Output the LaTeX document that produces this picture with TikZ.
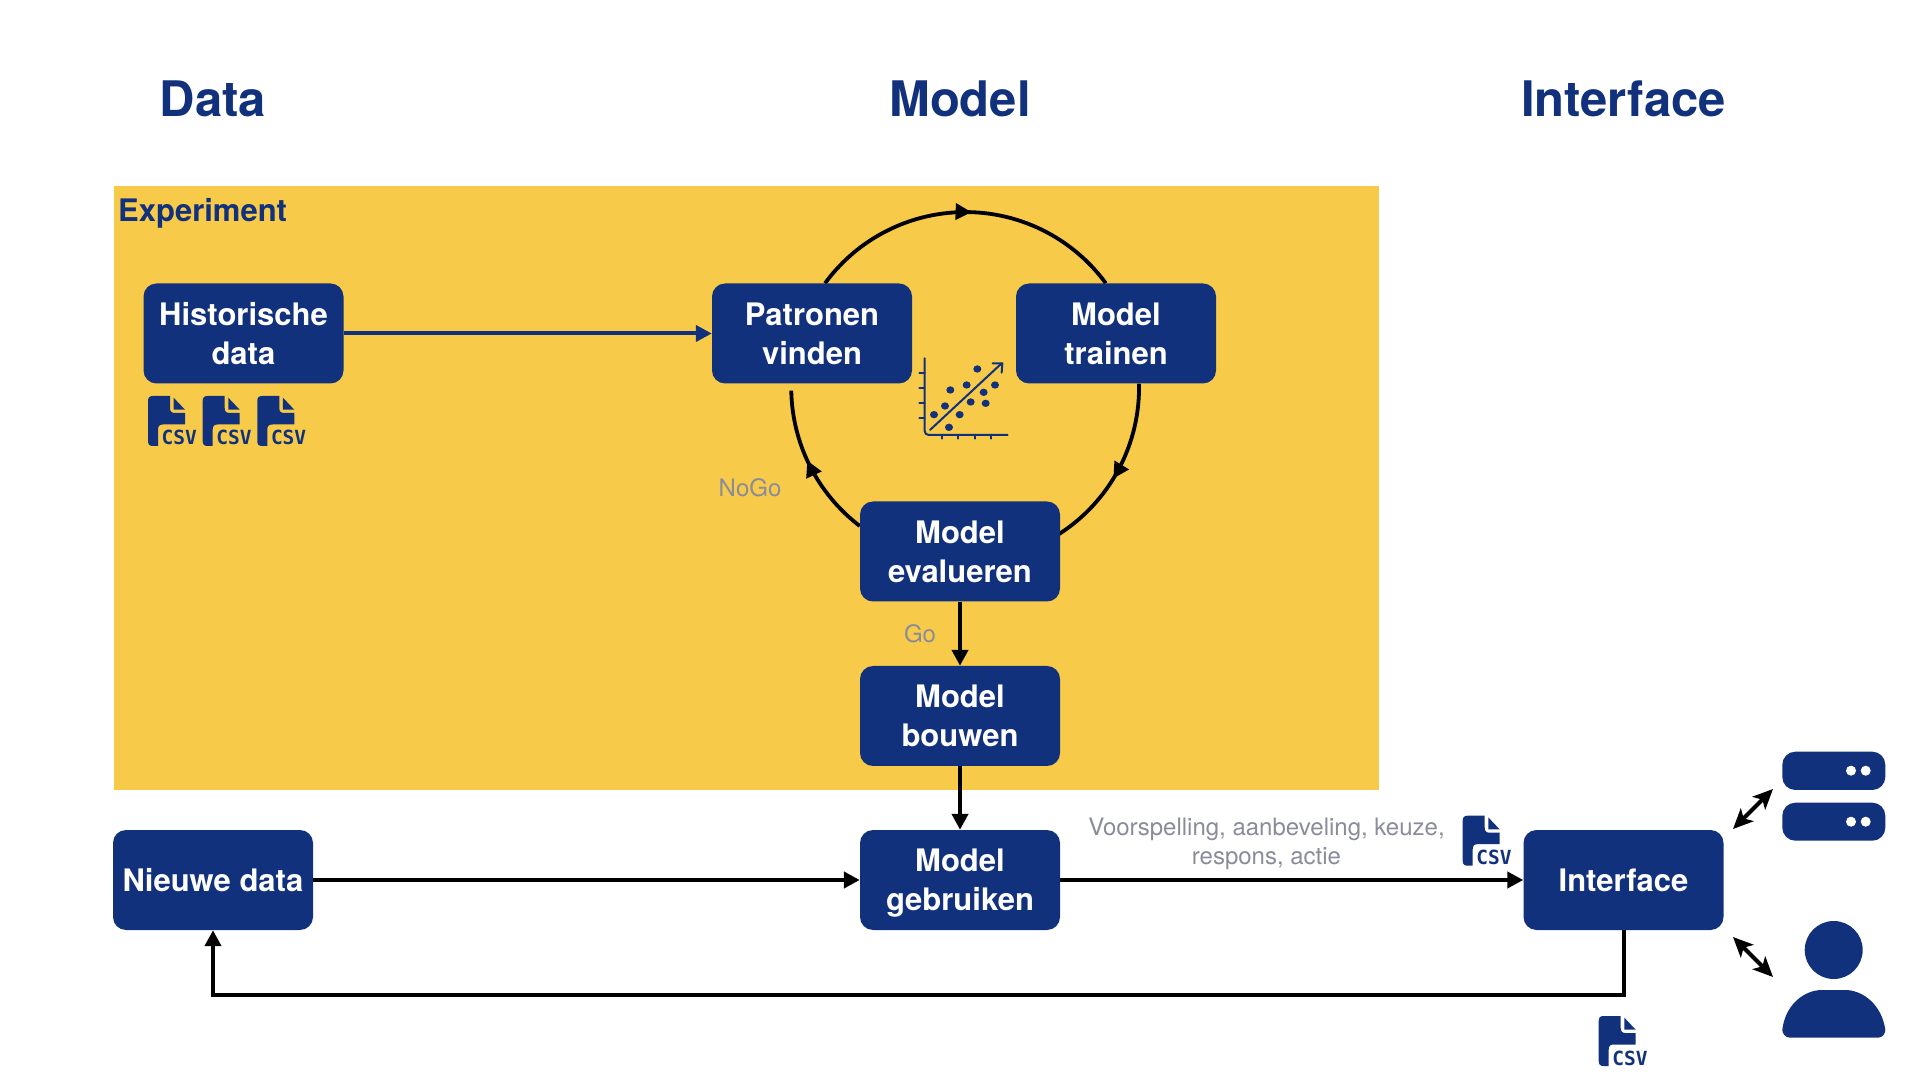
\documentclass[tikz,border=0pt]{standalone}
\usepackage{fontspec}
\setmainfont{TeX Gyre Heros}
\newfontfamily\csvfont{DejaVu Sans Mono}
\usetikzlibrary{arrows.meta,decorations.markings,backgrounds}
\definecolor{navy}{HTML}{12317D}
\definecolor{amber}{HTML}{F7CA4A}
\definecolor{greytext}{HTML}{8A8C99}
\tikzset{
  x=1pt,y=1pt,
  flowbox/.style={draw=none,fill=navy,rounded corners=13pt,minimum width=200pt,minimum height=100pt,inner sep=0pt,
    text=white,align=center,text depth=0pt,font=\fontsize{31}{39}\selectfont\bfseries},
  headtext/.style={text=navy,font=\fontsize{49}{54}\selectfont\bfseries,inner sep=0pt},
  note/.style={text=greytext,align=center,inner sep=0pt,font=\fontsize{24}{29}\selectfont},
  conn/.style={draw=black,line width=4pt,-{Triangle[length=16pt,width=16pt]}},
  twoway/.style={draw=black,line width=4pt,{Stealth[length=20pt,width=18pt,inset=5pt]}-{Stealth[length=20pt,width=18pt,inset=5pt]}},
  ringarc/.style={draw=black,line width=3.8pt,postaction={decorate},
    decoration={markings,mark=at position #1 with {\arrow{Triangle[length=16pt,width=16pt]}}}},
  csvicon/.pic={
    \fill[navy] (0,-5) .. controls (0,-1.5) and (1.5,0) .. (5,0) -- (22,0) -- (22,-12) .. controls (22,-15.5) and (23.5,-17) .. (27,-17)
      -- (37,-17) -- (37,-28.5) -- (15,-28.5) .. controls (11.5,-28.5) and (10,-30) .. (10,-33.5) -- (10,-50) -- (5,-50)
      .. controls (1.5,-50) and (0,-48.5) .. (0,-45) -- cycle;
    \fill[navy] (25.6,-1.7) -- (37,-13.7) -- (25.6,-13.7) -- cycle;
    \node[anchor=base west,inner sep=0pt,text=navy,font=\fontsize{19.5}{19}\selectfont\csvfont\bfseries] at (13.5,-49) {CSV};
  },
}
\begin{document}
\begin{tikzpicture}
\useasboundingbox (0,0) rectangle (1920,1080);

% headings
\node[headtext] (hdata) at (213,981) {Data};
\node[headtext] (hmodel) at (960,981) {Model};
\node[headtext] (hinterface) at (1623.5,981) {Interface};
\node[text=navy,inner sep=0pt,anchor=west,font=\fontsize{31}{36}\selectfont\bfseries] (lexp) at (118,867) {Experiment};

% boxes
\node[flowbox] (hist) at (243.5,746.5) {Historische\\data};
\node[flowbox] (patronen) at (812,746.5) {Patronen\\vinden};
\node[flowbox] (trainen) at (1116,746.5) {Model\\trainen};
\node[flowbox] (eval) at (960,528.5) {Model\\evalueren};
\node[flowbox] (bouwen) at (960,364) {Model\\bouwen};
\node[flowbox] (gebruik) at (960,200) {Model\\gebruiken};
\node[flowbox] (nieuwe) at (213,200) {Nieuwe data};
\node[flowbox] (iface) at (1623.5,200) {Interface};

% notes
\node[note,anchor=west] (nogo) at (718.5,592) {NoGo};
\node[note] (go) at (920,446) {Go};
\node[note] (voorsp) at (1266.5,236.5) {Voorspelling, aanbeveling, keuze,\\respons, actie};

% connectors
\begin{scope}[on background layer]
\fill[white] (0,0) rectangle (1920,1080);
\fill[amber] (114,290) rectangle (1379,894);
\draw[ringarc=0.519] ([xshift=13pt]patronen.north) arc[start angle=143.8,delta angle=-107.6,radius=174];
\draw[ringarc=0.559] ([xshift=23pt]trainen.south) arc[start angle=1.3,delta angle=-58.7,radius=174];
\draw[ringarc=0.54] ([yshift=25.5pt]eval.west) arc[start angle=232.7,delta angle=-51.7,radius=174];
\end{scope}
\draw[conn,draw=navy,{-{Triangle[length=16pt,width=16pt,fill=navy]}}] (hist.east) -- (patronen.west);
\draw[conn] (eval.south) -- (bouwen.north);
\draw[conn] (bouwen.south) -- (gebruik.north);
\draw[conn] (nieuwe.east) -- (gebruik.west);
\draw[conn] (gebruik.east) -- (iface.west);
\coordinate (loopb) at (1623.5,85);
\draw[conn] (iface.south) -- (loopb) -| (nieuwe.south);

% double arrows
\coordinate (srvA) at (1733,251);
\coordinate (srvB) at (1773,291);
\coordinate (usrA) at (1733,143);
\coordinate (usrB) at (1773,103);
\draw[twoway] (srvA) -- (srvB);
\draw[twoway] (usrA) -- (usrB);

% file icons
\pic at (148,684) {csvicon};
\pic at (202.7,684) {csvicon};
\pic at (257.3,684) {csvicon};
\pic at (1462.7,264.3) {csvicon};
\pic at (1598.7,64) {csvicon};

% scatter icon
\begin{scope}[shift={(880pt,740pt)},x=0.3333pt,y=-0.3333pt,line cap=round,line join=round]
\draw[navy,line width=2pt,rounded corners=4pt] (134,55) -- (134,285) -- (383,285);
\foreach \yy in {100,145,190,235} \draw[navy,line width=2pt] (118,\yy) -- (134,\yy);
\foreach \xx in {187,235,284,332} \draw[navy,line width=2pt] (\xx,285) -- (\xx,296);
\draw[navy,line width=2pt] (150,270) -- (365,70);
\draw[navy,line width=2pt] (338,70) -- (367,70) -- (365,98);
\foreach \px/\py in {292/87,345/135,260/135,211/150,311/157,272/186,317/190,195/198,162/224,239/224,207/262}
  \fill[navy] (\px,\py) ellipse[x radius=12,y radius=11];
\end{scope}

% server icon
\fill[navy,rounded corners=13pt] (1782.3,290) rectangle (1885.3,328.3);
\fill[navy,rounded corners=13pt] (1782.3,239.3) rectangle (1885.3,277.3);
\foreach \dx in {1851,1865.7} {
  \fill[white] (\dx,309.3) circle[radius=5];
  \fill[white] (\dx,258.3) circle[radius=5];
}

% person icon
\fill[navy] (1833.7,130) circle[radius=29];
\fill[navy] (1782.3,50) .. controls (1782.3,47) and (1785,42.3) .. (1790,42.3) -- (1878,42.3)
  .. controls (1883,42.3) and (1885.3,47) .. (1885.3,50)
  .. controls (1882,75) and (1863,90) .. (1845,90) -- (1822,90)
  .. controls (1804,90) and (1785,75) .. (1782.3,50) -- cycle;
\end{tikzpicture}
\end{document}
